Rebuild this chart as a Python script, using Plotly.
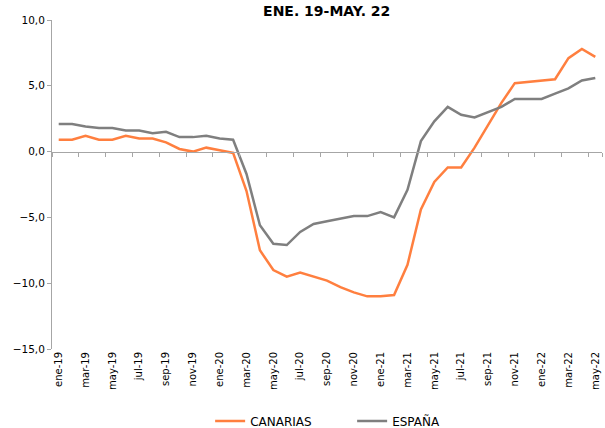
import plotly.graph_objects as go

months = ["ene", "feb", "mar", "abr", "may", "jun", "jul", "ago", "sep", "oct", "nov", "dic"]
categories = [f"{m}-{y}" for y in ["19", "20", "21"] for m in months] + [f"{m}-22" for m in months[:5]]

canarias = [0.9, 0.9, 1.2, 0.9, 0.9, 1.2, 1.0, 1.0, 0.7, 0.2, 0.0, 0.3,
            0.1, -0.1, -3.0, -7.5, -9.0, -9.5, -9.2, -9.5, -9.8, -10.3, -10.7, -11.0,
            -11.0, -10.9, -8.6, -4.4, -2.3, -1.2, -1.2, 0.3, 2.0, 3.7, 5.2, 5.3,
            5.4, 5.5, 7.1, 7.8, 7.2]
espana = [2.1, 2.1, 1.9, 1.8, 1.8, 1.6, 1.6, 1.4, 1.5, 1.1, 1.1, 1.2,
          1.0, 0.9, -1.7, -5.6, -7.0, -7.1, -6.1, -5.5, -5.3, -5.1, -4.9, -4.9,
          -4.6, -5.0, -2.9, 0.8, 2.3, 3.4, 2.8, 2.6, 3.0, 3.4, 4.0, 4.0,
          4.0, 4.4, 4.8, 5.4, 5.6]

title = "ENE. 19-MAY. 22"
font_family = "Verdana, DejaVu Sans, sans-serif"

fig = go.Figure()
fig.add_trace(go.Scatter(x=categories, y=canarias, mode="lines", name="CANARIAS",
                         line=dict(color="#FF7F3F", width=2.5)))
fig.add_trace(go.Scatter(x=categories, y=espana, mode="lines", name="ESPAÑA",
                         line=dict(color="#7F7F7F", width=2.5)))

fig.update_layout(
    width=605, height=428,
    margin=dict(l=52, r=3, t=20, b=79, autoexpand=False),
    paper_bgcolor="white", plot_bgcolor="white",
    separators=",.",
    font=dict(family=font_family, size=10, color="#000000"),
    title=dict(text="<b>" + title + "</b>", x=0.54, xanchor="center", y=0.974, yanchor="middle",
               font=dict(size=14, family=font_family)),
    showlegend=True,
    legend=dict(orientation="h", x=0.2875, xanchor="left", y=-0.175, yanchor="top",
                font=dict(size=12), entrywidth=97, entrywidthmode="pixels"),
    xaxis=dict(type="category", categoryorder="array", categoryarray=categories,
               range=[-0.5, 40.5], showline=False, showgrid=False, zeroline=False,
               automargin=False,
               ticks="", tickmode="array", tickvals=categories[::2], tickangle=-90,
               tickfont=dict(size=10)),
    xaxis2=dict(type="category", categoryorder="array", categoryarray=categories,
                range=[-0.5, 40.5], overlaying="x", anchor="free", position=0.6,
                automargin=False,
                showline=True, linecolor="#A6A6A6", linewidth=1, showgrid=False,
                ticks="outside", ticklen=4, tickcolor="#A6A6A6", tickson="boundaries",
                tickmode="array", tickvals=categories[::2], showticklabels=False),
    yaxis=dict(range=[-15, 10], dtick=5, tickformat=".1f", showgrid=False, zeroline=False,
               automargin=False,
               showline=True, linecolor="#A6A6A6", linewidth=1, ticks="outside",
               ticklen=4, tickcolor="#A6A6A6", tickfont=dict(size=10.5)),
)
# invisible trace to activate xaxis2
fig.add_trace(go.Scatter(x=categories, y=[None] * len(categories), xaxis="x2",
                         showlegend=False, hoverinfo="skip"))

fig.write_html("out.html", config={"displayModeBar": False},
               post_script="document.body.style.margin='0';")
